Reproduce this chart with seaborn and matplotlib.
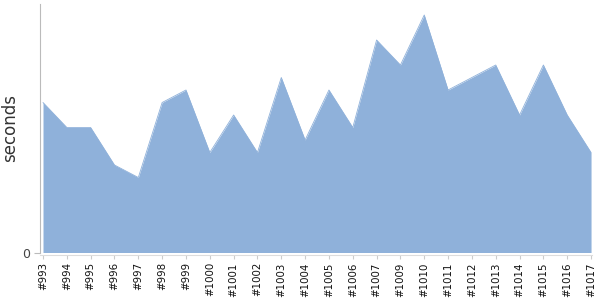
import matplotlib
matplotlib.use("Agg")
import matplotlib.pyplot as plt
import seaborn as sns
import pandas as pd
import numpy as np

builds = ["#993", "#994", "#995", "#996", "#997", "#998", "#999", "#1000",
          "#1001", "#1002", "#1003", "#1004", "#1005", "#1006", "#1007",
          "#1009", "#1010", "#1011", "#1012", "#1013", "#1014", "#1015",
          "#1016", "#1017"]
seconds = [12, 10, 10, 7, 6, 12, 13, 8, 11, 8, 14, 9, 13, 10, 17,
           15, 19, 13, 14, 15, 11, 15, 11, 8]

sns.set_style("white")
plt.rcParams['font.family'] = ['DejaVu Sans']

df = pd.DataFrame({"build": builds, "seconds": seconds})
df["pos"] = np.arange(len(df))

fig = plt.figure(figsize=(6, 3), dpi=100)
ax = fig.add_axes([40/600, 47.5/300, 552/600, 248.5/300])

fill_color = "#8fb1da"
sns.lineplot(data=df, x="pos", y="seconds", ax=ax, color=fill_color, linewidth=0.6)
ax.fill_between(df["pos"], df["seconds"], 0, color=fill_color, linewidth=0)

for s in ["top", "right"]:
    ax.spines[s].set_visible(False)
ax.spines["left"].set_color("#bbbbbb")
ax.spines["bottom"].set_color("#dddddd")
ax.spines["bottom"].set_position(("outward", 2))

ax.set_xlim(-0.126, 23.04)
ax.set_ylim(0, 19.88)
ax.set_xticks(df["pos"].tolist())
ax.set_xticklabels(df["build"].tolist(), fontsize=7.4, color="#111111")
ax.set_yticks([0])
ax.set_yticklabels(["0"], fontsize=9, color="#444444")
ax.set_xlabel("")
ax.set_ylabel("seconds", fontsize=12, color="#333333")
ax.yaxis.set_label_coords(-21/552, 0.5)

ax.tick_params(axis="x", which="both", bottom=True, length=3, color="#cccccc",
               pad=2, labelrotation=90)
ax.tick_params(axis="y", which="both", left=True, length=4, color="#bbbbbb", pad=3)

fig.savefig("out.png", dpi=100)
